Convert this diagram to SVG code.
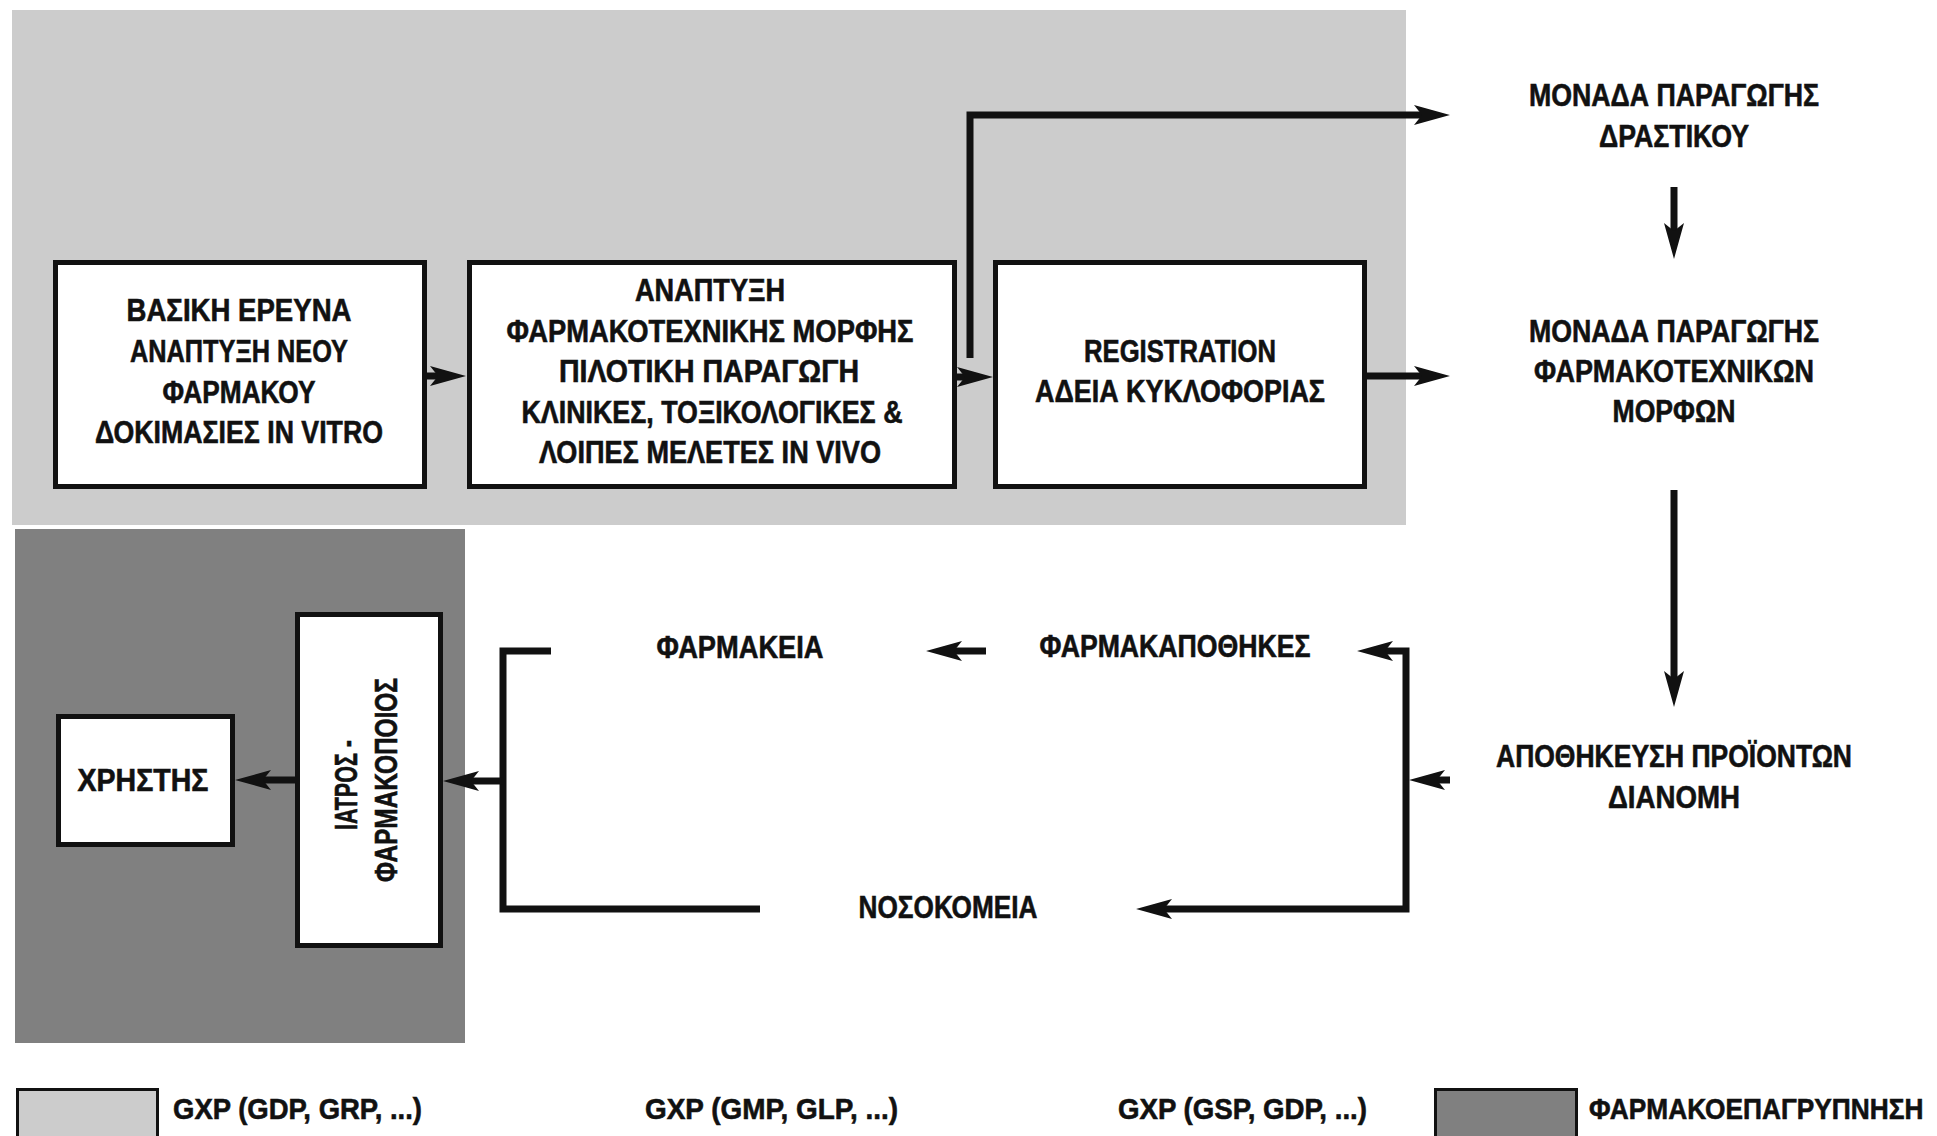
<svg xmlns="http://www.w3.org/2000/svg" width="1937" height="1136" viewBox="0 0 1937 1136">
<style>
text{font-family:"Liberation Sans Narrow","Liberation Sans",Arial,sans-serif;font-weight:bold;font-size:32px;fill:#111;stroke:#111;stroke-width:0.6;text-anchor:middle}
.l{text-anchor:start}
.lg{font-size:30px}
.box{fill:#fff;stroke:#111;stroke-width:5}
.c{fill:none;stroke:#111;stroke-width:7;stroke-linejoin:miter}
</style>
<defs>
<marker id="ah" viewBox="-10 -11 40 22" refX="0" refY="0" markerWidth="40" markerHeight="22" orient="auto" markerUnits="userSpaceOnUse">
<path d="M28,0 L-8,-10 L0,0 L-8,10 Z" fill="#111"/>
</marker>
</defs>
<rect width="1937" height="1136" fill="#fff"/>
<g id="zones">
<rect x="12" y="10" width="1394" height="515" fill="#cccccc"/>
<rect x="15" y="529" width="450" height="514" fill="#808080"/>
</g>
<g id="connectors">
<path class="c" d="M427,376 H438" marker-end="url(#ah)"/>
<path class="c" d="M957,377 H965" marker-end="url(#ah)"/>
<path class="c" d="M970,358 V115 H1422" marker-end="url(#ah)"/>
<path class="c" d="M1367,376 H1422" marker-end="url(#ah)"/>
<path class="c" d="M1674,187 V231" marker-end="url(#ah)"/>
<path class="c" d="M1674,490 V679" marker-end="url(#ah)"/>
<path class="c" d="M1450,780 H1437" marker-end="url(#ah)"/>
<path class="c" d="M1406,780 V651 H1385" marker-end="url(#ah)"/>
<path class="c" d="M1406,780 V909 H1164" marker-end="url(#ah)"/>
<path class="c" d="M986,651 H954" marker-end="url(#ah)"/>
<path class="c" d="M551,651 H503 V909 H760"/>
<path class="c" d="M503,781 H471" marker-end="url(#ah)"/>
<path class="c" d="M295,780 H263" marker-end="url(#ah)"/>
</g>
<g id="basic-research">
<rect class="box" x="55.5" y="262.5" width="369" height="224"/>
<text x="239" y="321" textLength="225" lengthAdjust="spacingAndGlyphs">ΒΑΣΙΚΗ ΕΡΕΥΝΑ</text>
<text x="239" y="362" textLength="218" lengthAdjust="spacingAndGlyphs">ΑΝΑΠΤΥΞΗ ΝΕΟΥ</text>
<text x="239" y="403" textLength="153" lengthAdjust="spacingAndGlyphs">ΦΑΡΜΑΚΟΥ</text>
<text x="239" y="443" textLength="288" lengthAdjust="spacingAndGlyphs">ΔΟΚΙΜΑΣΙΕΣ IN VITRO</text>
</g>
<g id="development">
<rect class="box" x="469.5" y="262.5" width="485" height="224"/>
<text x="710" y="301" textLength="150" lengthAdjust="spacingAndGlyphs">ΑΝΑΠΤΥΞΗ</text>
<text x="710" y="342" textLength="407" lengthAdjust="spacingAndGlyphs">ΦΑΡΜΑΚΟΤΕΧΝΙΚΗΣ ΜΟΡΦΗΣ</text>
<text x="709" y="382" textLength="300" lengthAdjust="spacingAndGlyphs">ΠΙΛΟΤΙΚΗ ΠΑΡΑΓΩΓΗ</text>
<text x="712" y="423" textLength="381" lengthAdjust="spacingAndGlyphs">ΚΛΙΝΙΚΕΣ, ΤΟΞΙΚΟΛΟΓΙΚΕΣ &amp;</text>
<text x="710" y="463" textLength="342" lengthAdjust="spacingAndGlyphs">ΛΟΙΠΕΣ ΜΕΛΕΤΕΣ IN VIVO</text>
</g>
<g id="registration">
<rect class="box" x="995.5" y="262.5" width="369" height="224"/>
<text x="1180" y="362" textLength="192" lengthAdjust="spacingAndGlyphs">REGISTRATION</text>
<text x="1180" y="402" textLength="290" lengthAdjust="spacingAndGlyphs">ΑΔΕΙΑ ΚΥΚΛΟΦΟΡΙΑΣ</text>
</g>
<g id="api-unit">
<text x="1674" y="106" textLength="290" lengthAdjust="spacingAndGlyphs">ΜΟΝΑΔΑ ΠΑΡΑΓΩΓΗΣ</text>
<text x="1674" y="147" textLength="150" lengthAdjust="spacingAndGlyphs">ΔΡΑΣΤΙΚΟΥ</text>
</g>
<g id="dosage-unit">
<text x="1674" y="342" textLength="290" lengthAdjust="spacingAndGlyphs">ΜΟΝΑΔΑ ΠΑΡΑΓΩΓΗΣ</text>
<text x="1674" y="382" textLength="280" lengthAdjust="spacingAndGlyphs">ΦΑΡΜΑΚΟΤΕΧΝΙΚΩΝ</text>
<text x="1674" y="422" textLength="123" lengthAdjust="spacingAndGlyphs">ΜΟΡΦΩΝ</text>
</g>
<g id="storage">
<text x="1674" y="767" textLength="356" lengthAdjust="spacingAndGlyphs">ΑΠΟΘΗΚΕΥΣΗ ΠΡΟΪΟΝΤΩΝ</text>
<text x="1674" y="808" textLength="132" lengthAdjust="spacingAndGlyphs">ΔΙΑΝΟΜΗ</text>
</g>
<g id="wholesalers">
<text x="1175" y="657" textLength="271" lengthAdjust="spacingAndGlyphs">ΦΑΡΜΑΚΑΠΟΘΗΚΕΣ</text>
</g>
<g id="pharmacies">
<text x="740" y="658" textLength="167" lengthAdjust="spacingAndGlyphs">ΦΑΡΜΑΚΕΙΑ</text>
</g>
<g id="hospitals">
<text x="948" y="918" textLength="179" lengthAdjust="spacingAndGlyphs">ΝΟΣΟΚΟΜΕΙΑ</text>
</g>
<g id="doctor-pharmacist">
<rect class="box" x="297.5" y="614.5" width="143" height="331"/>
<text transform="translate(357,785) rotate(-90)" x="0" y="0" textLength="90" lengthAdjust="spacingAndGlyphs">ΙΑΤΡΟΣ -</text>
<text transform="translate(397,780) rotate(-90)" x="0" y="0" textLength="204" lengthAdjust="spacingAndGlyphs">ΦΑΡΜΑΚΟΠΟΙΟΣ</text>
</g>
<g id="user">
<rect class="box" x="58.5" y="716.5" width="174" height="128"/>
<text x="143" y="791" textLength="131" lengthAdjust="spacingAndGlyphs">ΧΡΗΣΤΗΣ</text>
</g>
<g id="legend">
<rect x="17.5" y="1089.5" width="140" height="60" fill="#cccccc" stroke="#111" stroke-width="3"/>
<text class="l lg" x="173" y="1119" textLength="249" lengthAdjust="spacingAndGlyphs">GXP (GDP, GRP, ...)</text>
<text class="l lg" x="645" y="1119" textLength="253" lengthAdjust="spacingAndGlyphs">GXP (GMP, GLP, ...)</text>
<text class="l lg" x="1118" y="1119" textLength="249" lengthAdjust="spacingAndGlyphs">GXP (GSP, GDP, ...)</text>
<rect x="1435.5" y="1089.5" width="141" height="60" fill="#808080" stroke="#111" stroke-width="3"/>
<text class="l lg" transform="translate(1589,1119) scale(0.8,1)" x="0" y="0" textLength="418" lengthAdjust="spacingAndGlyphs">ΦΑΡΜΑΚΟΕΠΑΓΡΥΠΝΗΣΗ</text>
</g>
</svg>
